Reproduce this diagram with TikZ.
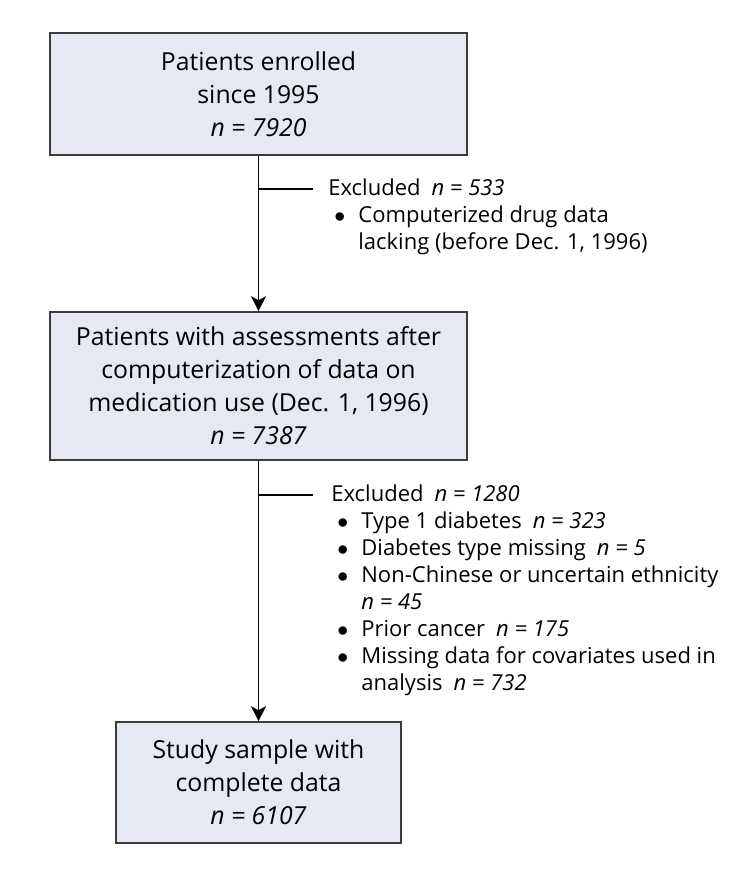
\documentclass[tikz,border=0pt]{standalone}
\usepackage{fontspec}
\setmainfont{Open Sans}
\usetikzlibrary{arrows.meta}
\definecolor{boxfill}{RGB}{229,233,243}
\definecolor{boxline}{RGB}{60,60,60}
\newcommand\blt{\makebox[15pt][l]{\hspace{3pt}$\bullet$}}
\newcommand\cnt{\hspace*{15pt}}
\begin{document}
\begin{tikzpicture}[x=0.5pt,y=-0.5pt,
  stagebox/.style={draw=boxline, fill=boxfill, line width=0.8pt, align=center, inner sep=0pt,
    font=\fontsize{12.4}{16.5}\selectfont},
  exclist/.style={anchor=north west, align=left, inner sep=0pt,
    font=\fontsize{11}{13.5}\selectfont},
  flow/.style={line width=0.7pt, -{Stealth[length=7.5pt,width=7.5pt,inset=2pt]}},
  branch/.style={line width=0.6pt}]
\useasboundingbox (0,0) rectangle (745,870);
\node[stagebox, minimum width=208.5pt, minimum height=61pt] (b1) at (258.5,94)
  {Patients enrolled\\since 1995\\\textit{n = 7920}};
\node[stagebox, minimum width=208.5pt, minimum height=74pt] (b2) at (258.5,386)
  {Patients with assessments after\\computerization of data on\\medication use (Dec. 1, 1996)\\\textit{n = 7387}};
\node[stagebox, minimum width=142.5pt, minimum height=60.5pt] (b3) at (258.5,782.5)
  {Study sample with\\complete data\\\textit{n = 6107}};
\draw[flow] (b1) -- (b2);
\draw[flow] (b2) -- (b3);
\coordinate (j1) at (258.5,189);
\coordinate (e1) at (313,189);
\coordinate (j2) at (258.5,495);
\coordinate (e2) at (313,495);
\draw[branch] (j1) -- (e1);
\draw[branch] (j2) -- (e2);
\node[exclist] (x1) at (328,178)
  {Excluded\enspace\textit{n = 533}\\
   \blt Computerized drug data\\
   \cnt lacking (before Dec. 1, 1996)};
\node[exclist] (x2) at (331,484)
  {Excluded\enspace\textit{n = 1280}\\
   \blt Type 1 diabetes\enspace\textit{n = 323}\\
   \blt Diabetes type missing\enspace\textit{n = 5}\\
   \blt Non-Chinese or uncertain ethnicity\\
   \cnt\textit{n = 45}\\
   \blt Prior cancer\enspace\textit{n = 175}\\
   \blt Missing data for covariates used in\\
   \cnt analysis\enspace\textit{n = 732}};
\end{tikzpicture}
\end{document}
